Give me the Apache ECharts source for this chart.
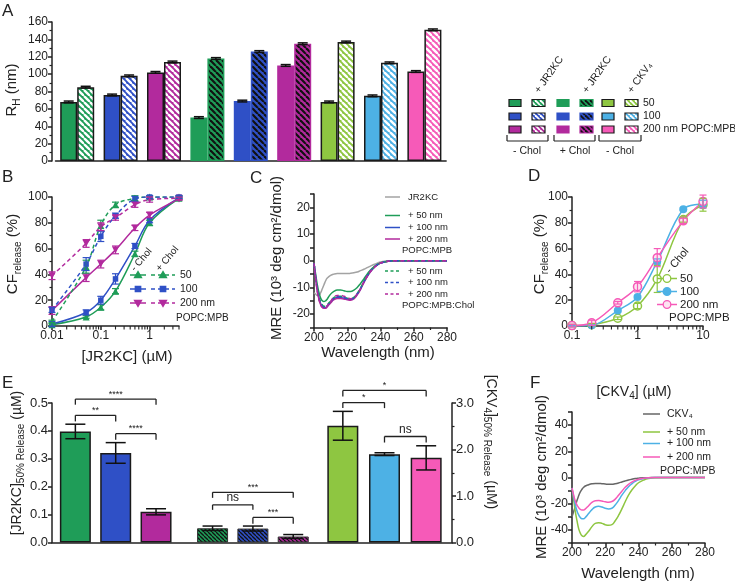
<!DOCTYPE html>
<html><head><meta charset="utf-8">
<script src="https://cdn.jsdelivr.net/npm/echarts@6/dist/echarts.min.js"></script>
<style>html,body{margin:0;padding:0;background:#fff}#c{width:735px;height:586px}</style>
</head><body><div id="c"></div>
<script>
const FONT = "'Liberation Sans', Arial, Helvetica, sans-serif";
const INK = '#222';
const C_GREEN='#1f9d58', C_BLUE='#2f50c6', C_MAG='#b22a9d', C_LIME='#8ec641', C_LBLUE='#4db1e5', C_PINK='#f65ab8', C_GRAY='#a3a3a3', C_DGRAY='#666666';

// ---------- Panel A: hydrodynamic radius ----------
const aGroups = ['50 −Chol','100 −Chol','200 −Chol','50 +Chol','100 +Chol','200 +Chol','50 CKV4','100 CKV4','200 CKV4'];
const aLipo = [68, 76, 102, 50, 69, 110, 68, 75, 103];
const aLipoPep = [85, 98, 114, 118, 126, 135, 137, 113, 151];
const aLipoErr = [1, 1, 1, 1, 1, 1, 1, 1, 1];
const aLipoPepErr = [1, 1, 1, 1, 1, 1, 1, 1, 1];

// ---------- Panel B: CF release vs [JR2KC] ----------
const bDose = [0.01, 0.05, 0.1, 0.2, 0.5, 1, 4];
const b50 = [1, 7, 14.5, 27, 56, 80, 99];
const b100 = [1.5, 10.5, 20, 36.5, 62, 82, 99.5];
const b200 = [12, 37.5, 48, 59, 76, 86, 98.5];
const b50Chol = [3.5, 46, 78, 94, 99, 100, 100];
const b100Chol = [12.5, 48, 69.5, 85.5, 98.5, 100, 100];
const b200Chol = [39, 64, 77, 84, 94, 98, 99];
const b50Err = [1, 1, 2, 2, 2, 2, 1];
const b100Err = [2, 2, 3, 4, 2, 2, 1];
const b200Err = [3, 3, 3, 3, 2, 2, 1];
const b50CholErr = [1, 5, 4, 2, 2, 1, 1];
const b100CholErr = [2, 5, 4, 2, 2, 1, 1];
const b200CholErr = [3, 3, 3, 2, 2, 2, 1];
const bMinorTicks = [0.02,0.03,0.04,0.05,0.06,0.07,0.08,0.09,0.2,0.3,0.4,0.5,0.6,0.7,0.8,0.9,2,3,4];

// ---------- Panel C: CD spectra JR2KC ----------
const cWave = [200,201,202,203,204,205,206,207,208,210,212,214,216,218,220,222,224,226,228,230,232,234,236,238,240,243,246,250,260,270,280];
const cJR2KC = [-12,-12.5,-13,-13,-12,-10.5,-9,-7.5,-6.5,-5.5,-5,-4.8,-4.8,-4.8,-4.8,-4.7,-4.5,-4.2,-3.7,-3.2,-2.6,-2,-1.4,-0.9,-0.5,-0.2,-0.1,0,0,0,0];
const c50 = [-1,-5,-9,-12,-14,-15,-15.3,-15,-14.3,-12.5,-11.5,-11,-11,-11.2,-11.5,-11.5,-11,-10,-8.5,-6.8,-5,-3.5,-2.3,-1.4,-0.8,-0.3,-0.1,0,0,0,0];
const c100 = [-1,-6,-11,-14,-16,-17,-17.5,-17.6,-17,-15.5,-14.3,-13.8,-13.8,-14,-14.3,-14.5,-14,-12.5,-10.5,-8,-5.8,-4,-2.6,-1.6,-0.9,-0.4,-0.1,0,0,0,0];
const c200 = [-1,-6.5,-11.5,-14.5,-16.5,-17.5,-17.8,-17.8,-17.2,-15.8,-14.6,-14.1,-14.1,-14.3,-14.6,-14.8,-14.3,-12.8,-10.7,-8.2,-5.9,-4.1,-2.7,-1.6,-0.9,-0.4,-0.1,0,0,0,0];
const c50Chol = [-1,-6,-10.5,-13.5,-15.5,-16.5,-17,-17,-16.5,-15,-13.8,-13.3,-13.3,-13.6,-14,-14.2,-13.7,-12.2,-10.2,-7.8,-5.6,-3.9,-2.5,-1.5,-0.9,-0.4,-0.1,0,0,0,0];
const c100Chol = [-1,-6,-11,-14,-16,-17,-17.4,-17.4,-16.8,-15.3,-14,-13.5,-13.5,-13.8,-14.2,-14.4,-13.9,-12.4,-10.4,-7.9,-5.7,-3.9,-2.5,-1.5,-0.9,-0.4,-0.1,0,0,0,0];
const c200Chol = [-1,-6.5,-11.5,-14.5,-16.5,-17.4,-17.6,-17.5,-16.8,-15.2,-13.7,-13,-13,-13.3,-13.8,-14.2,-13.8,-12.4,-10.4,-8,-5.8,-4,-2.6,-1.6,-0.9,-0.4,-0.1,0,0,0,0];

// ---------- Panel D: CF release vs [CKV4] ----------
const dDose = [0.1, 0.2, 0.5, 1, 2, 5, 10];
const d50 = [0.3, 1, 6, 15.5, 36.5, 82.5, 94];
const d100 = [0, 0.5, 12, 22.5, 50, 90.5, 94.5];
const d200 = [0.3, 2.5, 18, 30.5, 53, 81.5, 96.5];
const d50Err = [1, 1, 1, 2, 10.5, 2, 5];
const d100Err = [0.5, 0.5, 1, 1, 2, 1, 3];
const d200Err = [1, 2, 1, 4, 7, 2, 5];
const dMinorTicks = [0.2,0.3,0.4,0.5,0.6,0.7,0.8,0.9,2,3,4,5,6,7,8,9];

// ---------- Panel E: 50% release concentrations ----------
const eSizes = ['50 nm', '100 nm', '200 nm'];
const eJR2KC = [0.398, 0.321, 0.110];
const eJR2KCErr = [0.026, 0.037, 0.011];
const eJR2KCChol = [0.051, 0.050, 0.0215];
const eJR2KCCholErr = [0.008, 0.009, 0.007];
const eCKV4 = [2.51, 1.90, 1.82];
const eCKV4Err = [0.31, 0.03, 0.26];

// ---------- Panel F: CD spectra CKV4 ----------
const fWave = [200,201,202,203,204,205,206,207,208,210,212,214,216,218,220,222,224,226,228,230,232,234,236,238,240,243,246,250,260,270,280];
const fCKV4 = [-30,-26,-22,-17.5,-14,-11,-9,-7.5,-6.5,-5.5,-4.8,-4.5,-4.5,-4.7,-5,-5.2,-5.2,-4.8,-4.2,-3.4,-2.6,-1.9,-1.3,-0.8,-0.5,-0.2,-0.1,0,0,0,0];
const f50 = [-8,-17,-26,-33,-39,-42.5,-44.5,-45,-44,-41,-37.5,-35,-34.5,-35,-36,-36.5,-36,-33,-29,-24,-18.5,-13.5,-9.5,-6.5,-4,-2,-0.8,-0.2,0,0,0];
const f100 = [-8,-15,-21,-25.5,-28.5,-30.5,-31.5,-31.5,-30.5,-27.5,-24.5,-22.5,-22,-22.5,-23.5,-24,-23.5,-21,-17.5,-13.5,-10,-7,-4.8,-3,-1.8,-0.8,-0.3,0,0,0,0];
const f200 = [-8,-13.5,-18,-21,-23,-24.3,-24.8,-24.8,-24,-21.5,-19,-17.8,-17.5,-18,-18.5,-18.8,-18.3,-16.5,-13.5,-10.5,-7.5,-5.2,-3.5,-2.2,-1.3,-0.6,-0.2,0,0,0,0];

// ================= helpers =================
function stripe(base, stripeColor, size, width) {
  const c = document.createElement('canvas'); c.width = size; c.height = size;
  const g = c.getContext('2d'); g.fillStyle = base; g.fillRect(0, 0, size, size);
  g.strokeStyle = stripeColor; g.lineWidth = width;
  for (const o of [-size, 0, size]) { g.beginPath(); g.moveTo(o, 0); g.lineTo(o + size, size); g.stroke(); }
  return {image: c, repeat: 'repeat'};
}
function deepMerge(a, b) {
  for (const k in b) {
    if (b[k] && typeof b[k] === 'object' && !Array.isArray(b[k]) && a[k] && typeof a[k] === 'object') deepMerge(a[k], b[k]);
    else a[k] = b[k];
  }
  return a;
}
function axisBase(extra) {
  return deepMerge({
    type: 'value',
    axisLine: {show: true, onZero: false, lineStyle: {color: INK, width: 1.5}},
    axisTick: {show: true, length: 4, lineStyle: {color: INK, width: 1.5}},
    minorTick: {show: false, length: 2.5, lineStyle: {color: INK, width: 1.2}},
    axisLabel: {color: INK, fontSize: 12, fontFamily: FONT, margin: 4},
    splitLine: {show: false}, minorSplitLine: {show: false}
  }, extra);
}
const decadeFmt = v => { const l = Math.log10(v); return Math.abs(l - Math.round(l)) < 1e-6 ? String(+Math.pow(10, Math.round(l)).toPrecision(1)) : ''; };
const zip = (xs, ys) => xs.map((x, i) => [x, ys[i]]);

function errSeries(xi, yi, xs, ys, errs, capHalf, offset, color, lw) {
  return {
    type: 'custom', xAxisIndex: xi, yAxisIndex: yi, silent: true, z: 6, clip: false,
    data: xs.map((x, i) => [x, ys[i] - errs[i], ys[i] + errs[i]]),
    renderItem: (params, api) => {
      const lo = api.coord([api.value(0), api.value(1)]);
      const hi = api.coord([api.value(0), api.value(2)]);
      const x = lo[0] + offset;
      const st = {stroke: color, lineWidth: lw};
      return {type: 'group', children: [
        {type: 'line', shape: {x1: x, y1: lo[1], x2: x, y2: hi[1]}, style: st},
        {type: 'line', shape: {x1: x - capHalf, y1: hi[1], x2: x + capHalf, y2: hi[1]}, style: st},
        {type: 'line', shape: {x1: x - capHalf, y1: lo[1], x2: x + capHalf, y2: lo[1]}, style: st}
      ]};
    }
  };
}
// log-axis minor tick marks (axis decoration drawn through the axis scale)
function minorTickSeries(xi, yi, vals, y0) {
  return {
    type: 'custom', xAxisIndex: xi, yAxisIndex: yi, silent: true, clip: false, z: 6,
    data: vals.map(v => [v, y0, y0]),
    renderItem: (params, api) => {
      const p = api.coord([api.value(0), api.value(1)]);
      return {type: 'group', children: [
        {type: 'line', shape: {x1: p[0], y1: p[1], x2: p[0], y2: p[1] + 3.5}, style: {stroke: INK, lineWidth: 1.1}}
      ]};
    }
  };
}
function lineSeries(xi, yi, xs, ys, color, dashed, sym, symRot, fill, smooth) {
  return {
    type: 'line', xAxisIndex: xi, yAxisIndex: yi, data: zip(xs, ys), smooth: smooth,
    symbol: sym || 'none', symbolSize: sym === 'rect' ? 5.5 : (sym === 'triangle' ? 7 : 8), symbolRotate: symRot || 0, showSymbol: !!sym,
    lineStyle: {color: color, width: 1.5, type: dashed ? [4, 3] : 'solid'},
    itemStyle: {color: fill || color, borderColor: color, borderWidth: fill ? 1.5 : 0}, z: 3
  };
}

// ================= panel A colours/patterns =================
const aColors = [C_GREEN, C_BLUE, C_MAG, C_GREEN, C_BLUE, C_MAG, C_LIME, C_LBLUE, C_PINK];
const aHatch = aColors.map((c, i) => (i >= 3 && i <= 5) ? stripe(c, '#111', 6, 2.2) : stripe(c, '#ffffff', 6, 2.4));
const aBorder = aColors.map((c, i) => (i >= 3 && i <= 5) ? c : '#1a1a1a');
const eColors = [C_GREEN, C_BLUE, C_MAG];
const eColors2 = [C_LIME, C_LBLUE, C_PINK];
const eHatch = eColors.map(c => stripe(c, '#111', 4, 1.3));

const chart = echarts.init(document.getElementById('c'), null, {renderer: 'canvas'});

const option = {
  animation: false,
  backgroundColor: '#fff',
  textStyle: {fontFamily: FONT},
  grid: [
    {left: 55.5, top: 22, width: 390.6, height: 139},       // 0 A
    {left: 52, top: 197, width: 127, height: 129},          // 1 B
    {left: 314, top: 194, width: 133, height: 133.5},       // 2 C
    {left: 572, top: 197, width: 131, height: 129},         // 3 D
    {left: 52, top: 403, width: 400, height: 139.5},        // 4 E base
    {left: 55.2, top: 403, width: 121, height: 139.5},      // 5 E grp1
    {left: 192.4, top: 403, width: 121, height: 139.5},     // 6 E grp2
    {left: 322, top: 403, width: 125, height: 139.5},       // 7 E grp3
    {left: 572, top: 412, width: 133, height: 131}          // 8 F
  ],
  xAxis: [
    axisBase({gridIndex: 0, type: 'category', data: aGroups, axisTick: {show: false}, axisLabel: {show: false}}),
    axisBase({gridIndex: 1, type: 'log', logBase: 10, min: 0.01, max: 4, axisLabel: {formatter: decadeFmt, showMaxLabel: false}}),
    axisBase({gridIndex: 2, min: 200, max: 280, interval: 20, minorTick: {show: true, splitNumber: 2}}),
    axisBase({gridIndex: 3, type: 'log', logBase: 10, min: 0.1, max: 10, axisLabel: {formatter: decadeFmt}}),
    axisBase({gridIndex: 4, min: 0, max: 1, axisTick: {show: false}, axisLabel: {show: false}}),
    {gridIndex: 5, type: 'category', data: eSizes, show: false},
    {gridIndex: 6, type: 'category', data: eSizes, show: false},
    {gridIndex: 7, type: 'category', data: eSizes, show: false},
    axisBase({gridIndex: 8, min: 200, max: 280, interval: 20, minorTick: {show: true, splitNumber: 2}})
  ],
  yAxis: [
    axisBase({gridIndex: 0, min: 0, max: 160, interval: 20, offset: 3.5, minorTick: {show: true, splitNumber: 2}}),
    axisBase({gridIndex: 1, min: 0, max: 100, interval: 20, minorTick: {show: true, splitNumber: 2}}),
    axisBase({gridIndex: 2, min: -25, max: 25, interval: 5, axisLabel: {formatter: v => (v % 10 === 0 ? String(v) : '')}}),
    axisBase({gridIndex: 3, min: 0, max: 100, interval: 20, minorTick: {show: true, splitNumber: 2}}),
    axisBase({gridIndex: 4, min: 0, max: 0.5, interval: 0.1, axisLabel: {fontSize: 13, formatter: v => v.toFixed(1)}}),
    axisBase({gridIndex: 4, position: 'right', min: 0, max: 3, interval: 1, axisLabel: {fontSize: 13, formatter: v => v.toFixed(1)}, minorTick: {show: true, splitNumber: 2}}),
    {gridIndex: 5, type: 'value', min: 0, max: 0.5, show: false},
    {gridIndex: 6, type: 'value', min: 0, max: 0.5, show: false},
    {gridIndex: 7, type: 'value', min: 0, max: 3, show: false},
    axisBase({gridIndex: 8, min: -50, max: 50, interval: 10, axisLabel: {formatter: v => (v % 20 === 0 ? String(v) : '')}})
  ],
  series: [
    // ---- A
    {type: 'bar', xAxisIndex: 0, yAxisIndex: 0, barWidth: 17, barGap: '0%', z: 2,
     data: aLipo.map((v, i) => ({value: v, itemStyle: {color: aColors[i], borderColor: aBorder[i], borderWidth: 1.5}}))},
    {type: 'bar', xAxisIndex: 0, yAxisIndex: 0, barWidth: 17, barGap: '0%', z: 2,
     data: aLipoPep.map((v, i) => ({value: v, itemStyle: {color: aHatch[i], borderColor: aBorder[i], borderWidth: 1.5}}))},
    errSeries(0, 0, aGroups.map((_, i) => i), aLipo, aLipoErr, 5, -8.5, '#111', 1.5),
    errSeries(0, 0, aGroups.map((_, i) => i), aLipoPep, aLipoPepErr, 5, 8.5, '#111', 1.5),
    // ---- B
    lineSeries(1, 1, bDose, b50, C_GREEN, false, 'triangle', 0, null, 0.35),
    lineSeries(1, 1, bDose, b100, C_BLUE, false, 'rect', 0, null, 0.35),
    lineSeries(1, 1, bDose, b200, C_MAG, false, 'triangle', 180, null, 0.35),
    lineSeries(1, 1, bDose, b50Chol, C_GREEN, true, 'triangle', 0, null, 0.35),
    lineSeries(1, 1, bDose, b100Chol, C_BLUE, true, 'rect', 0, null, 0.35),
    lineSeries(1, 1, bDose, b200Chol, C_MAG, true, 'triangle', 180, null, 0.35),
    errSeries(1, 1, bDose, b50, b50Err, 3.5, 0, C_GREEN, 1.2),
    errSeries(1, 1, bDose, b100, b100Err, 3.5, 0, C_BLUE, 1.2),
    errSeries(1, 1, bDose, b200, b200Err, 3.5, 0, C_MAG, 1.2),
    errSeries(1, 1, bDose, b50Chol, b50CholErr, 3.5, 0, C_GREEN, 1.2),
    errSeries(1, 1, bDose, b100Chol, b100CholErr, 3.5, 0, C_BLUE, 1.2),
    errSeries(1, 1, bDose, b200Chol, b200CholErr, 3.5, 0, C_MAG, 1.2),
    minorTickSeries(1, 1, bMinorTicks, 0),
    // ---- C
    lineSeries(2, 2, cWave, cJR2KC, C_GRAY, false, null, 0, null, true),
    lineSeries(2, 2, cWave, c50, C_GREEN, false, null, 0, null, true),
    lineSeries(2, 2, cWave, c100, C_BLUE, false, null, 0, null, true),
    lineSeries(2, 2, cWave, c200, C_MAG, false, null, 0, null, true),
    lineSeries(2, 2, cWave, c50Chol, C_GREEN, true, null, 0, null, true),
    lineSeries(2, 2, cWave, c100Chol, C_BLUE, true, null, 0, null, true),
    lineSeries(2, 2, cWave, c200Chol, C_MAG, true, null, 0, null, true),
    // ---- D
    lineSeries(3, 3, dDose, d50, C_LIME, false, 'circle', 0, '#ffffff', 0.35),
    lineSeries(3, 3, dDose, d100, C_LBLUE, false, 'circle', 0, null, 0.35),
    lineSeries(3, 3, dDose, d200, C_PINK, false, 'circle', 0, '#fde3f1', 0.35),
    errSeries(3, 3, dDose, d50, d50Err, 3.5, 0, C_LIME, 1.2),
    errSeries(3, 3, dDose, d100, d100Err, 3.5, 0, C_LBLUE, 1.2),
    errSeries(3, 3, dDose, d200, d200Err, 3.5, 0, C_PINK, 1.2),
    minorTickSeries(3, 3, dMinorTicks, 0),
    // ---- E
    {type: 'bar', xAxisIndex: 5, yAxisIndex: 6, barWidth: 31, z: 2,
     data: eJR2KC.map((v, i) => ({value: v, itemStyle: {color: eColors[i], borderColor: '#1a1a1a', borderWidth: 1.5}}))},
    {type: 'bar', xAxisIndex: 6, yAxisIndex: 7, barWidth: 31, z: 2,
     data: eJR2KCChol.map((v, i) => ({value: v, itemStyle: {color: eHatch[i], borderColor: '#333', borderWidth: 1}}))},
    {type: 'bar', xAxisIndex: 7, yAxisIndex: 8, barWidth: 31, z: 2,
     data: eCKV4.map((v, i) => ({value: v, itemStyle: {color: eColors2[i], borderColor: '#1a1a1a', borderWidth: 1.5}}))},
    errSeries(5, 6, [0, 1, 2], eJR2KC, eJR2KCErr, 10, 0, '#111', 1.5),
    errSeries(6, 7, [0, 1, 2], eJR2KCChol, eJR2KCCholErr, 10, 0, '#111', 1.5),
    errSeries(7, 8, [0, 1, 2], eCKV4, eCKV4Err, 10, 0, '#111', 1.5),
    // ---- F
    lineSeries(8, 9, fWave, fCKV4, C_DGRAY, false, null, 0, null, true),
    lineSeries(8, 9, fWave, f50, C_LIME, false, null, 0, null, true),
    lineSeries(8, 9, fWave, f100, C_LBLUE, false, null, 0, null, true),
    lineSeries(8, 9, fWave, f200, C_PINK, false, null, 0, null, true)
  ]
};
chart.setOption(option);

// ================= annotations (text, legends, brackets) =================
const G = [];
function txt(x, y, text, size, o) {
  o = o || {};
  const st = {text: text, fontSize: size, fontFamily: FONT, fill: INK, align: o.align || 'left', verticalAlign: o.va || 'middle'};
  if (o.rich) st.rich = o.rich;
  if (o.weight) st.fontWeight = o.weight;
  G.push({type: 'text', x: x, y: y, rotation: o.rot || 0, silent: true, z: 20, style: st});
}
function seg(x1, y1, x2, y2, color, w, dash) {
  G.push({type: 'line', silent: true, z: 20, shape: {x1, y1, x2, y2}, style: {stroke: color, lineWidth: w || 1.5, lineDash: dash || null}});
}
function mark(kind, cx, cy, color, fill) {
  const st = {fill: fill || color, stroke: color, lineWidth: 1.3};
  if (kind === 'tri') G.push({type: 'polygon', silent: true, z: 21, shape: {points: [[cx, cy - 3.5], [cx - 3.5, cy + 2.5], [cx + 3.5, cy + 2.5]]}, style: st});
  else if (kind === 'itri') G.push({type: 'polygon', silent: true, z: 21, shape: {points: [[cx, cy + 3.5], [cx - 3.5, cy - 2.5], [cx + 3.5, cy - 2.5]]}, style: st});
  else if (kind === 'sq') G.push({type: 'rect', silent: true, z: 21, shape: {x: cx - 2.7, y: cy - 2.7, width: 5.4, height: 5.4}, style: st});
  else G.push({type: 'circle', silent: true, z: 21, shape: {cx, cy, r: 3.8}, style: st});
}
const SUB = (big, small) => ({m: {fontSize: big, fontFamily: FONT, fill: INK, lineHeight: big + 5}, s: {fontSize: small, fontFamily: FONT, fill: INK, verticalAlign: 'bottom', lineHeight: small}});

// panel letters
txt(2, 11, 'A', 17); txt(2, 177, 'B', 17); txt(250, 178, 'C', 17); txt(528, 176, 'D', 17); txt(2, 383, 'E', 17); txt(530, 383, 'F', 17);

// axis titles
txt(12, 90, '{m|R}{s|H}{m| (nm)}', 15, {align: 'center', rot: Math.PI / 2, rich: SUB(15, 10)});
txt(13, 254, '{m|CF}{s|release}{m| (%)}', 15, {align: 'center', rot: Math.PI / 2, rich: SUB(15, 10)});
txt(127, 357, '[JR2KC] (µM)', 15, {align: 'center'});
txt(277, 258, 'MRE (10³ deg cm²/dmol)', 15, {align: 'center', rot: Math.PI / 2});
txt(378, 353, 'Wavelength (nm)', 15, {align: 'center'});
txt(540, 254, '{m|CF}{s|release}{m| (%)}', 15, {align: 'center', rot: Math.PI / 2, rich: SUB(15, 10)});
txt(17, 463, '{m|[JR2KC]}{s|50% Release}{m| (µM)}', 14, {align: 'center', rot: Math.PI / 2, rich: SUB(14, 10)});
txt(491, 442, '{m|[CKV}{s|4}{m|]}{s|50% Release}{m| (µM)}', 14, {align: 'center', rot: -Math.PI / 2, rich: SUB(14, 10)});
txt(634, 392, '{m|[CKV}{s|4}{m|] (µM)}', 14, {align: 'center', rich: SUB(14, 10)});
txt(542, 477, 'MRE (10³ deg cm²/dmol)', 15, {align: 'center', rot: Math.PI / 2});
txt(638, 574, 'Wavelength (nm)', 15, {align: 'center'});

// panel A legend
const swX = [509, 532, 557, 580, 602, 625];
const swY = [103, 116.5, 129.5];
const legCols = [[C_GREEN, C_BLUE, C_MAG], [C_GREEN, C_BLUE, C_MAG], [C_LIME, C_LBLUE, C_PINK]];
for (let g = 0; g < 3; g++) {
  for (let r = 0; r < 3; r++) {
    const c = legCols[g][r];
    const border = g === 1 ? c : '#1a1a1a';
    G.push({type: 'rect', silent: true, z: 20, shape: {x: swX[2 * g], y: swY[r] - 3.5, width: 12, height: 7}, style: {fill: c, stroke: border, lineWidth: 1.2}});
    G.push({type: 'rect', silent: true, z: 20, shape: {x: swX[2 * g + 1], y: swY[r] - 3.5, width: 13, height: 7},
      style: {fill: g === 1 ? stripe(c, '#111', 5, 1.8) : stripe(c, '#fff', 5, 1.8), stroke: border, lineWidth: 1.2}});
  }
}
txt(643, 103, '50', 10.5); txt(643, 116.5, '100', 10.5); txt(643, 129.5, '200 nm POPC:MPB', 10.5);
const rot55 = 55 * Math.PI / 180;
txt(537, 92, '+ JR2KC', 10.5, {rot: rot55}); txt(585, 92, '+ JR2KC', 10.5, {rot: rot55}); txt(630, 92, '+ CKV₄', 10.5, {rot: rot55});
[[507, 548], [554, 595], [599, 641]].forEach(([a, b]) => { seg(a, 135, a, 141, INK, 1.2); seg(a, 141, b, 141, INK, 1.2); seg(b, 135, b, 141, INK, 1.2); });
txt(527, 151, '- Chol', 10.5, {align: 'center'}); txt(575, 151, '+ Chol', 10.5, {align: 'center'}); txt(620, 151, '- Chol', 10.5, {align: 'center'});

// panel B legend
const bRows = [275, 289, 303];
const bCols = [C_GREEN, C_BLUE, C_MAG];
const bKinds = ['tri', 'sq', 'itri'];
const bLabels = ['50', '100', '200 nm'];
for (let r = 0; r < 3; r++) {
  seg(130, bRows[r], 146, bRows[r], bCols[r], 1.5);
  mark(bKinds[r], 138, bRows[r], bCols[r]);
  seg(151, bRows[r], 175, bRows[r], bCols[r], 1.5, [4, 3]);
  mark(bKinds[r], 163, bRows[r], bCols[r]);
  txt(180, bRows[r], bLabels[r], 10.5);
}
txt(176, 318, 'POPC:MPB', 10);
const rot50 = 50 * Math.PI / 180;
txt(133, 270, '- Chol', 10, {rot: rot50}); txt(158, 270, '+ Chol', 10, {rot: rot50});

// panel C legend
const cLeg = [[197, C_GRAY, false, 'JR2KC'], [215.5, C_GREEN, false, '+ 50 nm'], [227.5, C_BLUE, false, '+ 100 nm'], [239, C_MAG, false, '+ 200 nm'],
              [271, C_GREEN, true, '+ 50 nm'], [282.5, C_BLUE, true, '+ 100 nm'], [294, C_MAG, true, '+ 200 nm']];
cLeg.forEach(([y, c, d, t]) => { seg(385, y, 400, y, c, 1.5, d ? [3, 2.5] : null); txt(408, y, t, 9.5); });
txt(402, 250, 'POPC:MPB', 9.5); txt(402, 305.5, 'POPC:MPB:Chol', 9.5);

// panel D legend
const dRows = [278.5, 291.5, 304.5];
const dCols = [C_LIME, C_LBLUE, C_PINK];
const dFill = ['#ffffff', null, '#fde3f1'];
const dLabels = ['50', '100', '200 nm'];
for (let r = 0; r < 3; r++) {
  seg(657, dRows[r], 677, dRows[r], dCols[r], 1.5);
  mark('circ', 667, dRows[r], dCols[r], dFill[r]);
  txt(680, dRows[r], dLabels[r], 11.5);
}
txt(669, 318, 'POPC:MPB', 11.5);
txt(668, 272, '- Chol', 11, {rot: rot50});

// panel F legend
const fLeg = [[414, C_DGRAY, 'CKV₄'], [432, C_LIME, '+ 50 nm'], [443.5, C_LBLUE, '+ 100 nm'], [457, C_PINK, '+ 200 nm']];
fLeg.forEach(([y, c, t]) => { seg(643, y, 660, y, c, 1.5); txt(667, y, t, 10.5); });
txt(660, 471, 'POPC:MPB', 10.5);

// panel E significance brackets (positions in data units of each group's axes)
const eBrackets = [
  {g: 5, a: 0, b: 2, y: 0.514, leg: 0.494, t: '****'},
  {g: 5, a: 0, b: 1, y: 0.456, leg: 0.434, t: '**'},
  {g: 5, a: 1, b: 2, y: 0.390, leg: 0.368, t: '****'},
  {g: 6, a: 0, b: 2, y: 0.180, leg: 0.160, t: '***'},
  {g: 6, a: 0, b: 1, y: 0.135, leg: 0.117, t: 'ns'},
  {g: 6, a: 1, b: 2, y: 0.090, leg: 0.067, t: '***'},
  {g: 7, a: 0, b: 2, y: 3.27, leg: 3.14, t: '*'},
  {g: 7, a: 0, b: 1, y: 3.01, leg: 2.89, t: '*'},
  {g: 7, a: 1, b: 2, y: 2.28, leg: 2.15, t: 'ns'}
];
eBrackets.forEach(br => {
  const pa = chart.convertToPixel({gridIndex: br.g}, [br.a, br.y]);
  const pb = chart.convertToPixel({gridIndex: br.g}, [br.b, br.y]);
  const pl = chart.convertToPixel({gridIndex: br.g}, [br.a, br.leg]);
  seg(pa[0], pl[1], pa[0], pa[1], INK, 1.3);
  seg(pa[0], pa[1], pb[0], pb[1], INK, 1.3);
  seg(pb[0], pl[1], pb[0], pb[1], INK, 1.3);
  const ns = br.t === 'ns';
  txt((pa[0] + pb[0]) / 2, pa[1] - (ns ? 7 : 5), br.t, ns ? 12 : 9, {align: 'center'});
});

chart.setOption({graphic: G});
</script></body></html>
